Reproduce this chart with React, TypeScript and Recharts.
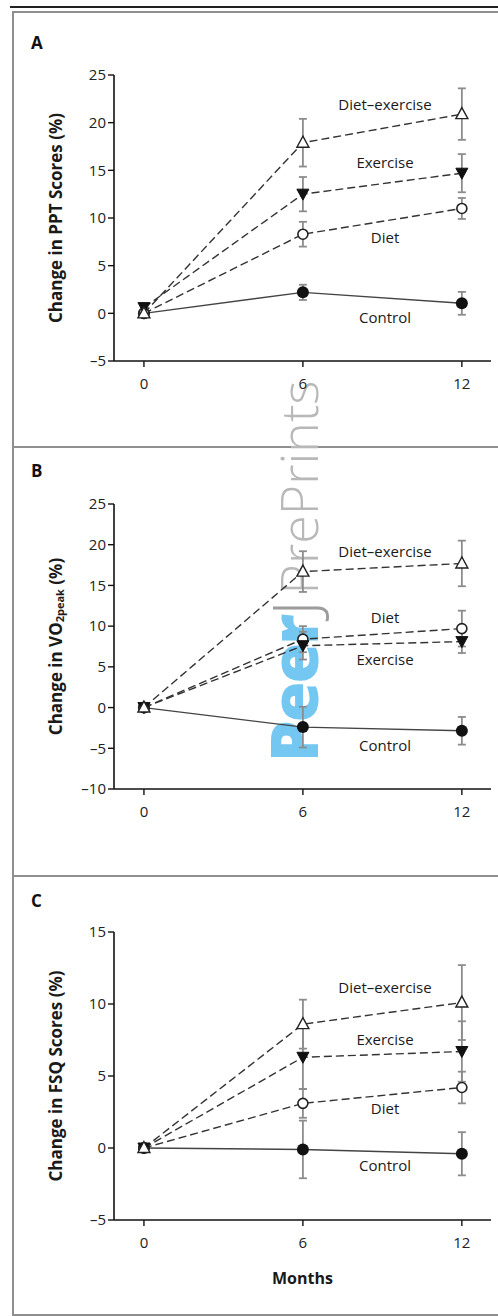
import React from 'react';
import { LineChart, Line, XAxis, YAxis, ErrorBar, ReferenceDot } from 'recharts';

const months = [0, 6, 12];

// A: physical performance test
const pptControl = [0, 2.2, 1.05];
const pptControlErr = [0, 0.8, 1.2];
const pptDiet = [0, 8.3, 11.0];
const pptDietErr = [0, 1.3, 1.1];
const pptExercise = [0.6, 12.5, 14.7];
const pptExerciseErr = [0, 1.8, 2.0];
const pptDietExercise = [0, 17.9, 20.9];
const pptDietExerciseErr = [0, 2.5, 2.7];

// B: peak oxygen consumption
const voControl = [0, -2.4, -2.85];
const voControlErr = [0, 2.5, 1.7];
const voDiet = [0, 8.4, 9.7];
const voDietErr = [0, 1.6, 2.2];
const voExercise = [0, 7.6, 8.1];
const voExerciseErr = [0, 1.7, 1.4];
const voDietExercise = [0, 16.7, 17.7];
const voDietExerciseErr = [0, 2.5, 2.8];

// C: functional status questionnaire
const fsqControl = [0, -0.1, -0.4];
const fsqControlErr = [0, 2.0, 1.5];
const fsqDiet = [0, 3.1, 4.2];
const fsqDietErr = [0, 1.0, 1.1];
const fsqExercise = [0, 6.3, 6.7];
const fsqExerciseErr = [0, 2.2, 2.1];
const fsqDietExercise = [0, 8.6, 10.1];
const fsqDietExerciseErr = [0, 1.7, 2.6];

const xTicks = [0, 6, 12];
const pptTicks = [-5, 0, 5, 10, 15, 20, 25];
const voTicks = [-10, -5, 0, 5, 10, 15, 20, 25];
const fsqTicks = [-5, 0, 5, 10, 15];

// series label anchors: [month, value]
const pptLabels: [string, number, number][] = [
  ['Diet–exercise', 9.1, 21.9],
  ['Exercise', 9.1, 15.8],
  ['Diet', 9.1, 7.9],
  ['Control', 9.1, -0.5],
];
const voLabels: [string, number, number][] = [
  ['Diet–exercise', 9.1, 19.1],
  ['Diet', 9.1, 11.0],
  ['Exercise', 9.1, 5.85],
  ['Control', 9.1, -4.7],
];
const fsqLabels: [string, number, number][] = [
  ['Diet–exercise', 9.1, 11.1],
  ['Exercise', 9.1, 7.5],
  ['Diet', 9.1, 2.7],
  ['Control', 9.1, -1.2],
];

const FONT = "'Open Sans', 'Noto Sans', sans-serif";

const buildRows = (c: number[], ce: number[], d: number[], de: number[], e: number[], ee: number[], x: number[], xe: number[]) =>
  months.map((m, i) => ({
    month: m,
    control: c[i], controlErr: ce[i],
    diet: d[i], dietErr: de[i],
    exercise: e[i], exerciseErr: ee[i],
    dietExercise: x[i], dietExerciseErr: xe[i],
  }));

const pptRows = buildRows(pptControl, pptControlErr, pptDiet, pptDietErr, pptExercise, pptExerciseErr, pptDietExercise, pptDietExerciseErr);
const voRows = buildRows(voControl, voControlErr, voDiet, voDietErr, voExercise, voExerciseErr, voDietExercise, voDietExerciseErr);
const fsqRows = buildRows(fsqControl, fsqControlErr, fsqDiet, fsqDietErr, fsqExercise, fsqExerciseErr, fsqDietExercise, fsqDietExerciseErr);

type Shape = 'triUp' | 'triDown' | 'circleOpen' | 'circleFilled';

const marker = (shape: Shape) => (props: any) => {
  const { cx, cy, index } = props;
  const k = `${shape}-${index}`;
  if (cx == null || cy == null) return <g key={k} />;
  if (shape === 'triUp')
    return <path key={k} d={`M${cx},${cy - 6.5}L${cx + 6},${cy + 4.5}L${cx - 6},${cy + 4.5}Z`} fill="#fff" stroke="#222" strokeWidth={1.4} />;
  if (shape === 'triDown')
    return <path key={k} d={`M${cx},${cy + 6}L${cx + 6},${cy - 5}L${cx - 6},${cy - 5}Z`} fill="#111" stroke="#111" strokeWidth={1} />;
  if (shape === 'circleOpen')
    return <circle key={k} cx={cx} cy={cy} r={5} fill="#fff" stroke="#222" strokeWidth={1.6} />;
  return <circle key={k} cx={cx} cy={cy} r={6} fill="#111" />;
};

const series: { key: string; shape: Shape; dash?: string; stroke: string }[] = [
  { key: 'control', shape: 'circleFilled', stroke: '#444' },
  { key: 'diet', shape: 'circleOpen', dash: '8 4', stroke: '#333' },
  { key: 'exercise', shape: 'triDown', dash: '8 4', stroke: '#333' },
  { key: 'dietExercise', shape: 'triUp', dash: '8 4', stroke: '#333' },
];

const yLabel = (content: React.ReactNode) => (props: any) => {
  const vb = props.viewBox;
  const x = vb.x + 55;
  const y = vb.y + vb.height / 2;
  return (
    <text x={x} y={y} transform={`rotate(-90, ${x}, ${y})`} textAnchor="middle" dominantBaseline="central"
      fontFamily={FONT} fontWeight={700} fontSize={17} fill="#1a1a1a">
      {content}
    </text>
  );
};

const fmt = (v: number) => (v < 0 ? `–${-v}` : `${v}`);

interface PanelProps {
  top: number;
  height: number;
  plotTop: number;
  plotHeight: number;
  rows: any[];
  yDomain: [number, number];
  yTicks: number[];
  labels: [string, number, number][];
  yTitle: React.ReactNode;
  xTitle?: string;
}

const Panel = ({ top, height, plotTop, plotHeight, rows, yDomain, yTicks, labels, yTitle, xTitle }: PanelProps) => (
  <div style={{ position: 'absolute', left: 0, top }}>
    <LineChart width={498} height={height} data={rows} margin={{ top: plotTop, right: 7, left: 0, bottom: 0 }}>
      <XAxis
        type="number"
        dataKey="month"
        domain={[-1.13, 13.1]}
        ticks={xTicks}
        height={height - plotTop - plotHeight}
        axisLine={{ stroke: '#111', strokeWidth: 1.6 }}
        tickLine={{ stroke: '#111', strokeWidth: 1.4 }}
        tickSize={6}
        tickMargin={11}
        tick={{ fill: '#222', fontSize: 15, fontFamily: FONT }}
        label={xTitle ? { value: xTitle, position: 'insideBottom', offset: 14, fill: '#1a1a1a', fontSize: 16, fontWeight: 700, fontFamily: FONT } : undefined}
      />
      <YAxis
        type="number"
        domain={yDomain}
        ticks={yTicks}
        width={114}
        axisLine={{ stroke: '#111', strokeWidth: 1.6 }}
        tickLine={{ stroke: '#111', strokeWidth: 1.4 }}
        tickSize={6}
        tickMargin={2}
        tickFormatter={fmt}
        tick={{ fill: '#222', fontSize: 15, fontFamily: FONT }}
        label={{ content: yLabel(yTitle) }}
      />
      {series.map((s) => (
        <Line
          key={s.key}
          dataKey={s.key}
          type="linear"
          stroke={s.stroke}
          strokeWidth={1.4}
          strokeDasharray={s.dash}
          dot={marker(s.shape)}
          activeDot={false}
          isAnimationActive={false}
        >
          <ErrorBar dataKey={`${s.key}Err`} direction="y" width={4} stroke="#8c8c8c" strokeWidth={1.8} />
        </Line>
      ))}
      {labels.map(([text, x, y]) => (
        <ReferenceDot
          key={text}
          x={x}
          y={y}
          r={0}
          fill="none"
          stroke="none"
          ifOverflow="visible"
          label={{ value: text, position: 'center', fill: '#1a1a1a', fontSize: 15, fontFamily: FONT }}
        />
      ))}
    </LineChart>
  </div>
);

const panelLetter = (letter: string, top: number) => (
  <div style={{ position: 'absolute', left: 31, top, fontFamily: FONT, fontWeight: 700, fontSize: 17, color: '#111', lineHeight: '20px' }}>
    {letter}
  </div>
);

const box = (top: number, height: number) => (
  <div style={{ position: 'absolute', left: 12, top, width: 500, height, boxSizing: 'border-box', border: '2px solid #8f8f8f' }} />
);

export default function App() {
  return (
    <div style={{ position: 'absolute', left: 0, top: 0, width: 498, height: 1316, overflow: 'hidden', background: '#fff' }}>
      <div style={{ position: 'absolute', left: 10, top: 6, width: 488, height: 2, background: '#222' }} />
      {box(11, 437)}
      {box(446, 431)}
      {box(875, 441)}
      <svg width={498} height={1316} style={{ position: 'absolute', left: 0, top: 0 }}>
        <text transform="translate(318, 762) rotate(-90)" fontFamily={FONT}>
          <tspan fill="#74c7f1" fontWeight={800} fontSize={66} letterSpacing={-2}>Peer</tspan>
          <tspan fill="#9c9c9c" fontWeight={300} fontSize={62}>J</tspan>
          <tspan fill="#b8b8b8" fontWeight={300} fontSize={52} dx={6}>PrePrints</tspan>
        </text>
      </svg>
      {panelLetter('A', 33)}
      {panelLetter('B', 461)}
      {panelLetter('C', 891)}
      <Panel top={60} height={340} plotTop={15} plotHeight={286} rows={pptRows} yDomain={[-5, 25]} yTicks={pptTicks}
        labels={pptLabels} yTitle="Change in PPT Scores (%)" />
      <Panel top={490} height={340} plotTop={14} plotHeight={285} rows={voRows} yDomain={[-10, 25]} yTicks={voTicks}
        labels={voLabels}
        yTitle={<>Change in VO<tspan fontSize={11} dy={4}>2peak</tspan><tspan dy={-4}> (%)</tspan></>} />
      <Panel top={918} height={380} plotTop={14} plotHeight={288} rows={fsqRows} yDomain={[-5, 15]} yTicks={fsqTicks}
        labels={fsqLabels} yTitle="Change in FSQ Scores (%)" xTitle="Months" />
    </div>
  );
}
